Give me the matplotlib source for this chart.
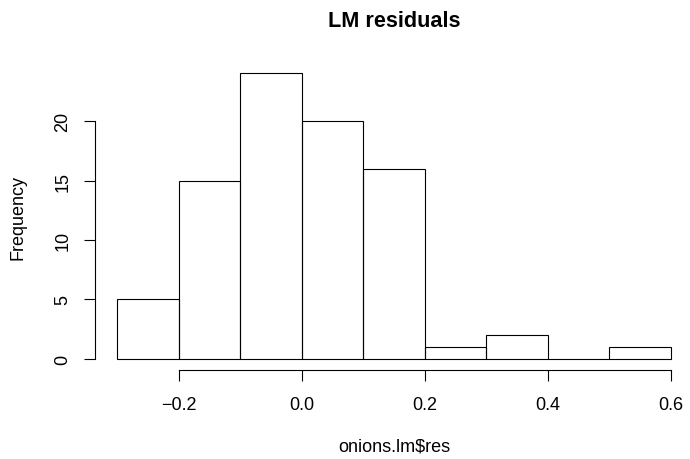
import matplotlib
matplotlib.use("Agg")
import matplotlib.pyplot as plt

plt.rcParams['font.family'] = ['Liberation Sans', 'DejaVu Sans']

bin_edges = [-0.3, -0.2, -0.1, 0.0, 0.1, 0.2, 0.3, 0.4, 0.5, 0.6]
counts = [5, 15, 24, 20, 16, 1, 2, 0, 1]
xtick_vals = [-0.2, 0.0, 0.2, 0.4, 0.6]
xtick_labels = ["\u22120.2", "0.0", "0.2", "0.4", "0.6"]
ytick_vals = [0, 5, 10, 15, 20]

W, H = 690, 460
fig = plt.figure(figsize=(W / 100, H / 100), dpi=100)
L, R, T, B = 95, 693, 63, 371.4
ax = fig.add_axes([L / W, 1 - B / H, (R - L) / W, (B - T) / H])

lefts = bin_edges[:-1]
widths = [bin_edges[i + 1] - bin_edges[i] for i in range(len(counts))]
ax.bar(lefts, counts, width=widths, align='edge', fill=False,
       edgecolor='black', linewidth=0.8)

x0, x1 = bin_edges[0], bin_edges[-1]
ext = 0.04 * (x1 - x0)
ax.set_xlim(x0 - ext, x1 + ext)
ymax = max(counts)
ax.set_ylim(-0.04 * ymax, ymax * 1.04)

for s in ['top', 'right']:
    ax.spines[s].set_visible(False)
ax.spines['bottom'].set_bounds(xtick_vals[0], xtick_vals[-1])
ax.spines['left'].set_bounds(ytick_vals[0], ytick_vals[-1])
for s in ['bottom', 'left']:
    ax.spines[s].set_linewidth(0.8)

ax.set_xticks(xtick_vals)
ax.set_xticklabels(xtick_labels)
ax.set_yticks(ytick_vals)
ax.set_yticklabels([str(v) for v in ytick_vals], rotation=90, va='center')
ax.tick_params(axis='both', direction='out', length=8, width=0.8, labelsize=13)
ax.tick_params(axis='x', pad=10.5)
ax.tick_params(axis='y', pad=9)

cx = (L + R) / 2 / W
fig.text(cx, 1 - 27 / H, "LM residuals", ha='center', va='baseline',
         fontsize=15.6, fontweight='bold')
fig.text(cx, 1 - 452 / H, "onions.lm$res", ha='center', va='baseline', fontsize=13)
fig.text(18.5 / W, 1 - 217 / H, "Frequency", ha='center', va='center',
         rotation=90, fontsize=13)

fig.savefig("out.png", dpi=100)
